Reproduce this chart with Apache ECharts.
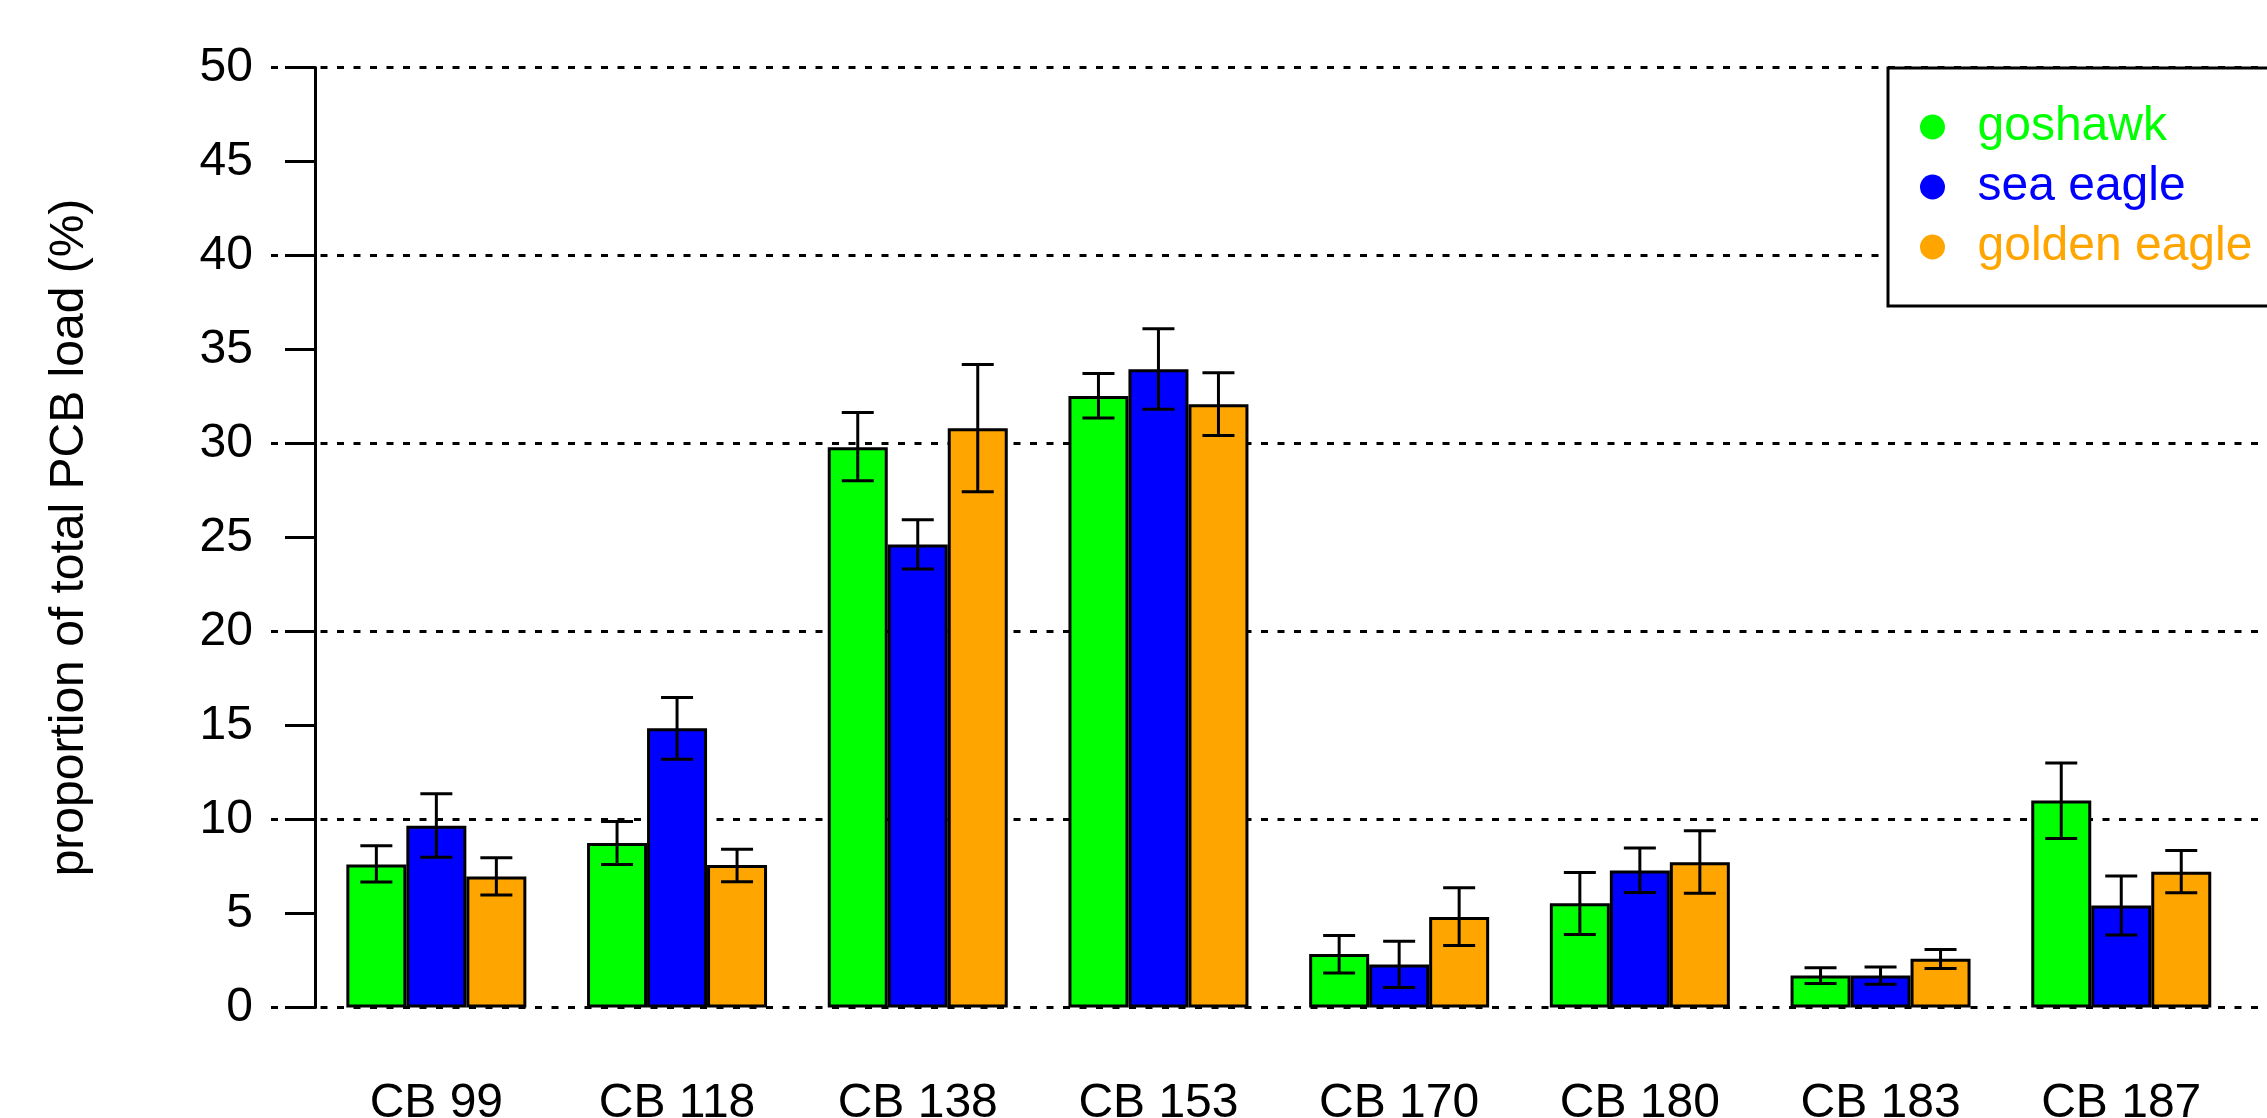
<!DOCTYPE html>
<html>
<head>
<meta charset="utf-8">
<script src="https://cdn.jsdelivr.net/npm/echarts@6/dist/echarts.min.js"></script>
<style>
  html, body { margin: 0; padding: 0; background: #fff; }
  #chart { width: 2267px; height: 1118px; }
</style>
</head>
<body>
<div id="chart"></div>
<script>
const categories = ['CB 99', 'CB 118', 'CB 138', 'CB 153', 'CB 170', 'CB 180', 'CB 183', 'CB 187'];
const species = ['goshawk', 'sea eagle', 'golden eagle'];
const colors = ['#00ff00', '#0000ff', '#ffa500'];

// mean proportion per congener
const goshawk = [7.61, 8.75, 29.80, 32.53, 2.84, 5.55, 1.70, 11.01];
const seaEagle = [9.67, 14.86, 24.63, 33.95, 2.29, 7.29, 1.70, 5.43];
const goldenEagle = [6.97, 7.58, 30.81, 32.09, 4.82, 7.73, 2.59, 7.22];

// error bar ends (low / high)
const goshawkLow = [6.67, 7.61, 28.02, 31.35, 1.84, 3.88, 1.28, 8.99];
const goshawkHigh = [8.60, 9.90, 31.65, 33.72, 3.83, 7.18, 2.11, 13.01];
const seaEagleLow = [7.99, 13.21, 23.33, 31.82, 1.06, 6.12, 1.24, 3.85];
const seaEagleHigh = [11.37, 16.49, 25.95, 36.10, 3.53, 8.48, 2.16, 7.00];
const goldenEagleLow = [5.98, 6.69, 27.43, 30.42, 3.30, 6.08, 2.07, 6.10];
const goldenEagleHigh = [7.96, 8.42, 34.20, 33.76, 6.37, 9.40, 3.09, 8.35];

const yTicks = [0, 50, 5];

const font = 'Liberation Sans, Arial, Helvetica, sans-serif';
const barW = 60;
const capHalf = 16;
const lw = 3;

const means = [goshawk, seaEagle, goldenEagle];
const lows = [goshawkLow, seaEagleLow, goldenEagleLow];
const highs = [goshawkHigh, seaEagleHigh, goldenEagleHigh];

const errRender = (offset) => (params, api) => {
    const cat = api.value(0);
    const x = api.coord([cat, 0])[0] + offset;
    const yLo = api.coord([cat, api.value(1)])[1];
    const yHi = api.coord([cat, api.value(2)])[1];
    const style = { stroke: '#000', lineWidth: lw };
    return {
        type: 'group',
        children: [
            { type: 'line', shape: { x1: x, y1: yLo, x2: x, y2: yHi }, style: style },
            { type: 'line', shape: { x1: x - capHalf, y1: yHi, x2: x + capHalf, y2: yHi }, style: style },
            { type: 'line', shape: { x1: x - capHalf, y1: yLo, x2: x + capHalf, y2: yLo }, style: style }
        ]
    };
};

const barSeries = species.map((name, i) => ({
    name: name,
    type: 'bar',
    xAxisIndex: 1,
    yAxisIndex: 1,
    barWidth: barW,
    barGap: '0%',
    data: means[i],
    itemStyle: { color: colors[i], borderColor: '#000', borderWidth: lw },
    z: 3
}));

const errSeries = species.map((name, i) => ({
    name: name + ' err',
    type: 'custom',
    xAxisIndex: 1,
    yAxisIndex: 1,
    renderItem: errRender((i - 1) * barW),
    data: categories.map((c, k) => [k, lows[i][k], highs[i][k]]),
    z: 5,
    silent: true
}));

const chart = echarts.init(document.getElementById('chart'));
chart.setOption({
    backgroundColor: '#fff',
    animation: false,
    textStyle: { fontFamily: font },
    grid: [
        { left: 271, right: -10, top: 67.5, height: 940, outerBoundsMode: 'none', containLabel: false },
        { left: 316, width: 1925.6, top: 67.5, height: 940, outerBoundsMode: 'none', containLabel: false }
    ],
    xAxis: [
        { type: 'value', gridIndex: 0, show: false, min: 0, max: 1 },
        {
            type: 'category',
            gridIndex: 1,
            data: categories,
            axisLine: { show: false },
            axisTick: { show: false },
            axisLabel: { fontSize: 48, color: '#000', margin: 72, fontFamily: font, interval: 0 }
        }
    ],
    yAxis: [
        {
            type: 'value', gridIndex: 0, min: 0, max: 50, interval: 10,
            axisLine: { show: false }, axisTick: { show: false }, axisLabel: { show: false },
            splitLine: { show: true, lineStyle: { color: '#000', width: 3, type: [7, 9.5] } }
        },
        {
            type: 'value', gridIndex: 1, min: yTicks[0], max: yTicks[1], interval: yTicks[2],
            name: 'proportion of total PCB load (%)',
            nameLocation: 'middle',
            nameRotate: 90,
            nameGap: 221,
            nameTextStyle: { fontSize: 48, color: '#000', fontFamily: font },
            offset: 1,
            axisLine: { show: true, lineStyle: { color: '#000', width: lw } },
            axisTick: { show: true, length: 30, lineStyle: { color: '#000', width: lw } },
            axisLabel: { fontSize: 48, color: '#000', margin: 62, fontFamily: font },
            splitLine: { show: false }
        }
    ],
    legend: {
        orient: 'vertical',
        left: 1888,
        top: 68,
        padding: [29, 40, 29, 32],
        itemGap: 0,
        itemWidth: 80,
        itemHeight: 25,
        icon: 'circle',
        backgroundColor: '#fff',
        borderColor: '#000',
        borderWidth: lw,
        borderRadius: 0,
        textStyle: { fontSize: 48, lineHeight: 60, fontFamily: font },
        data: species.map((name, i) => ({
            name: name,
            itemStyle: { color: colors[i], borderWidth: 0 },
            textStyle: { color: colors[i] }
        })),
        selectedMode: false
    },
    series: barSeries.concat(errSeries)
});
</script>
</body>
</html>
